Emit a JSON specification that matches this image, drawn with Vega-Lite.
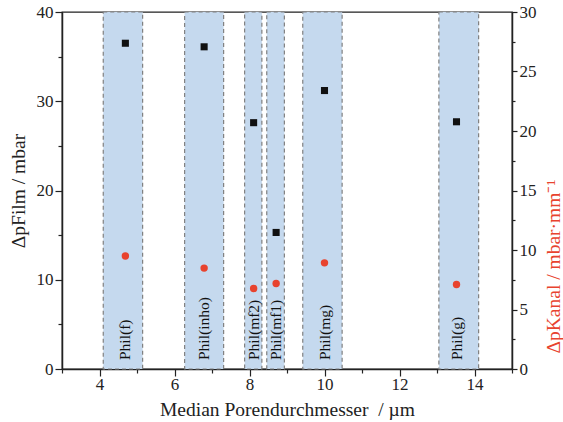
{
  "$schema": "https://vega.github.io/schema/vega-lite/v6.json",
  "autosize": {"type": "none"},
  "padding": {"left": 62, "top": 12, "right": 51, "bottom": 53},
  "width": 450,
  "height": 357,
  "config": {
    "font": "Liberation Serif",
    "view": {"stroke": "#222", "strokeWidth": 1.3},
    "axis": {
      "labelFont": "Liberation Serif",
      "titleFont": "Liberation Serif",
      "labelFontSize": 17,
      "titleFontSize": 19.5,
      "titleFontWeight": "normal",
      "labelColor": "#222",
      "titleColor": "#222",
      "domainColor": "#222",
      "domainWidth": 1.5,
      "tickColor": "#222",
      "tickWidth": 1.2,
      "grid": false
    }
  },
  "data": {
    "values": [
      {"name": "Phil(f)", "lo": 4.1, "hi": 5.15, "d": 4.69, "film": 36.5, "kanal": 9.5},
      {"name": "Phil(inho)", "lo": 6.27, "hi": 7.31, "d": 6.79, "film": 36.1, "kanal": 8.48},
      {"name": "Phil(mf2)", "lo": 7.87, "hi": 8.33, "d": 8.11, "film": 27.6, "kanal": 6.77},
      {"name": "Phil(mf1)", "lo": 8.46, "hi": 8.93, "d": 8.71, "film": 15.3, "kanal": 7.19},
      {"name": "Phil(mg)", "lo": 9.42, "hi": 10.47, "d": 10.0, "film": 31.2, "kanal": 8.92},
      {"name": "Phil(g)", "lo": 13.05, "hi": 14.11, "d": 13.52, "film": 27.7, "kanal": 7.1}
    ]
  },
  "encoding": {
    "x": {
      "type": "quantitative",
      "scale": {"domain": [3, 15], "nice": false, "zero": false},
      "axis": {
        "title": "Median Porendurchmesser\u00a0 / µm",
        "labelFont": "Liberation Serif",
        "titleFont": "Liberation Serif",
        "values": [3, 4, 5, 6, 7, 8, 9, 10, 11, 12, 13, 14, 15],
        "labelExpr": "datum.value % 2 === 0 ? '' + datum.value : ''",
        "tickSize": {"condition": {"test": "datum.value % 2 === 0", "value": 7}, "value": 4},
        "labelPadding": 0,
        "titlePadding": 8
      }
    }
  },
  "layer": [
    {
      "layer": [
        {
          "mark": {"type": "rect", "fill": "#c5d9ee", "stroke": "#808080", "strokeDash": [4, 3], "strokeWidth": 1.2},
          "encoding": {
            "x": {"field": "lo"},
            "x2": {"field": "hi"}
          }
        },
        {
          "mark": {"type": "text", "angle": 270, "align": "left", "baseline": "middle", "font": "Liberation Serif", "fontSize": 15.5, "color": "#111", "dx": 9},
          "encoding": {
            "x": {"field": "d"},
            "y": {"datum": 0},
            "text": {"field": "name"}
          }
        },
        {
          "mark": {"type": "square", "filled": true, "color": "#111", "size": 50, "opacity": 1},
          "encoding": {
            "x": {"field": "d"},
            "y": {
              "field": "film", "type": "quantitative",
              "scale": {"domain": [0, 40], "nice": false},
              "axis": {
                "orient": "left",
                "title": "ΔpFilm / mbar",
                "labelFont": "Liberation Serif",
                "titleFont": "Liberation Serif",
                "values": [0, 5, 10, 15, 20, 25, 30, 35, 40],
                "labelExpr": "datum.value % 10 === 0 ? '' + datum.value : ''",
                "tickSize": {"condition": {"test": "datum.value % 10 === 0", "value": 7}, "value": 4},
                "labelPadding": 2,
                "titlePadding": 8
              }
            }
          }
        }
      ]
    },
    {
      "mark": {"type": "circle", "color": "#e8432e", "size": 55, "opacity": 1},
      "encoding": {
        "x": {"field": "d"},
        "y": {
          "field": "kanal", "type": "quantitative",
          "scale": {"domain": [0, 30], "nice": false},
          "axis": {
            "orient": "right",
            "title": "ΔpKanal / mbar·mm⁻¹",
            "labelFont": "Liberation Serif",
            "titleFont": "Liberation Serif",
            "titleColor": "#e8432e",
            "titleAngle": 270,
            "titleBaseline": "top",
            "titleAlign": "left",
            "titleY": 341,
            "values": [0, 2.5, 5, 7.5, 10, 12.5, 15, 17.5, 20, 22.5, 25, 27.5, 30],
            "labelExpr": "datum.value % 5 === 0 ? '' + datum.value : ''",
            "tickSize": {"condition": {"test": "datum.value % 5 === 0", "value": 5}, "value": 3},
            "labelPadding": 2,
            "titlePadding": 8
          }
        }
      }
    }
  ],
  "resolve": {"scale": {"y": "independent"}}
}
